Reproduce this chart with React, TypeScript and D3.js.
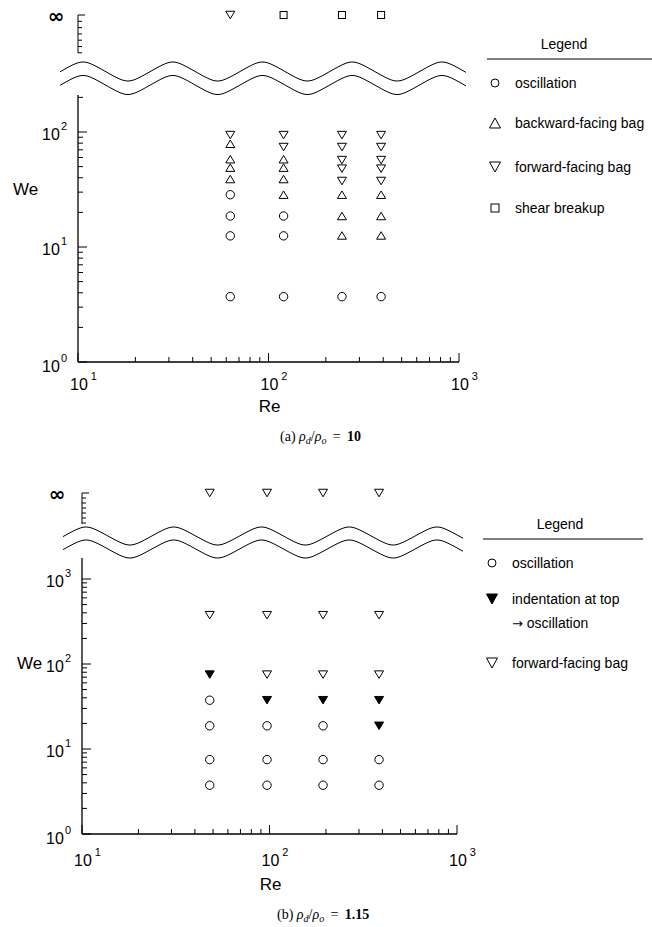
import React from "react";
import * as d3 from "d3";

const INF = Infinity;

// ---------- Panel (a): rho_d / rho_o = 10 ----------
const RE_A = [63, 120, 243, 390];
const A_OSCILLATION = [[28.5, 18.6, 12.5, 3.7], [18.6, 12.5, 3.7], [3.7], [3.7]];
const A_BACKWARD = [[79, 58, 49, 39], [58, 49, 39, 28.5], [28.5, 18.6, 12.6], [28.5, 18.6, 12.6]];
const A_FORWARD = [[INF, 94], [94, 74], [94, 74, 57, 48, 37.5], [94, 74, 57, 48, 37.5]];
const A_SHEAR = [[], [INF], [INF], [INF]];
const A_LEGEND = [["oscillation"], ["backward-facing bag"], ["forward-facing bag"], ["shear breakup"]];

// ---------- Panel (b): rho_d / rho_o = 1.15 ----------
const RE_B = [48, 97, 193, 384];
const B_OSCILLATION = [[37.5, 18.75, 7.5, 3.75], [18.75, 7.5, 3.75], [18.75, 7.5, 3.75], [7.5, 3.75]];
const B_INDENT = [[75], [37.5], [37.5], [37.5, 18.75]];
const B_FORWARD = [[INF, 375], [INF, 375, 75], [INF, 375, 75], [INF, 375, 75]];
const B_LEGEND = [["oscillation"], ["indentation at top", "\u2192 oscillation"], ["forward-facing bag"]];

const X_DOMAIN = [10, 1000];

const SANS = "'Liberation Sans', Arial, Helvetica, sans-serif";
const SERIF = "'Liberation Serif', 'Times New Roman', serif";

type Shape = "circle" | "up" | "down" | "square" | "downFilled";

function markerPath(shape: Shape, w: number, h: number) {
  if (shape === "up") return `M0,${-h / 2}L${w / 2},${h / 2}L${-w / 2},${h / 2}Z`;
  if (shape === "down" || shape === "downFilled") return `M${-w / 2},${-h / 2}L${w / 2},${-h / 2}L0,${h / 2}Z`;
  return "";
}

function Marker({ shape, x, y, big }: { shape: Shape; x: number; y: number; big?: boolean }) {
  const w = big ? 11 : 9;
  const h = big ? 10 : 7.5;
  if (shape === "circle") {
    return <circle cx={x} cy={y} r={big ? 4 : 4.2} fill="white" stroke="black" strokeWidth={1} />;
  }
  if (shape === "square") {
    const s = big ? 8 : 7;
    return <rect x={x - s / 2} y={y - s / 2} width={s} height={s} fill="white" stroke="black" strokeWidth={1} />;
  }
  return (
    <path
      d={markerPath(shape, w, h)}
      transform={`translate(${x},${y})`}
      fill={shape === "downFilled" ? "black" : "white"}
      stroke="black"
      strokeWidth={1}
      strokeLinejoin="miter"
    />
  );
}

interface PanelCfg {
  re: number[];
  series: { shape: Shape; cols: number[][] }[];
  legend: string[][];
  legendShapes: Shape[];
  x0: number;
  x1: number;
  yBase: number;
  decade: number;
  yTopVal: number;
  infY: number;
  infX: number;
  segTop: number;
  segBottom: number;
  segStep: number;
  segCount: number;
  wave: { x0: number; x1: number; mid: number; amp: number; gap: number; peak: number; period: number };
  xLabelBase: number;
  reLabelY: number;
  weX: number;
  weY: number;
  capX: number;
  capY: number;
  capLabel: string;
  capValue: string;
  legTitleY: number;
  legLine: [number, number, number];
  legTitleX: number;
  legMarkerX: number;
  legTextX: number;
  legBaselines: number[];
}

// softly rounded triangle wave in [-1, 1], peak (1) at phase 0
const K = 0.82;
const waveShape = (theta: number) => Math.asin(K * Math.cos(theta)) / Math.asin(K);

function Panel({ c }: { c: PanelCfg }) {
  const x = d3.scaleLog().domain(X_DOMAIN).range([c.x0, c.x1]);
  const y = d3.scaleLog().domain([1, 10]).range([c.yBase, c.yBase - c.decade]);
  const yTop = y(c.yTopVal);
  const yPos = (v: number) => (v === INF ? c.infY : y(v));
  const isMajor = (v: number) => Math.abs(Math.log10(v) - Math.round(Math.log10(v))) < 1e-9;
  const xTicks = x.ticks();
  const yTicks = d3.scaleLog().domain([1, c.yTopVal]).ticks();

  const w = c.wave;
  const wavePts = (off: number) =>
    d3.range(w.x0, w.x1 + 0.5, 1).map((px) => [px, w.mid + off - w.amp * waveShape((2 * Math.PI * (px - w.peak)) / w.period)] as [number, number]);
  const line = d3.line();

  const segTicks = d3.range(c.segCount).map((i) => c.segTop + i * c.segStep);

  return (
    <g>
      {/* wavy break lines */}
      <path d={line(wavePts(0)) || ""} fill="none" stroke="black" strokeWidth={1} />
      <path d={line(wavePts(w.gap)) || ""} fill="none" stroke="black" strokeWidth={1} />

      {/* infinity segment */}
      <line x1={c.x0} x2={c.x0} y1={c.segTop} y2={c.segBottom} stroke="black" strokeWidth={1} />
      {segTicks.map((t, i) => (
        <line key={i} x1={c.x0} x2={c.x0 + (i === 0 ? 7 : 4)} y1={t} y2={t} stroke="black" strokeWidth={1} />
      ))}
      <text x={c.infX} y={c.infY + 1} fontFamily="'DejaVu Sans', sans-serif" fontSize={20} fontWeight="bold" textAnchor="middle" dominantBaseline="central">
        {"\u221e"}
      </text>

      {/* y axis */}
      <line x1={c.x0} x2={c.x0} y1={c.yBase} y2={yTop} stroke="black" strokeWidth={1.3} />
      {yTicks.map((t, i) => (
        <line key={i} x1={c.x0} x2={c.x0 + (isMajor(t) ? 9 : 5)} y1={y(t)} y2={y(t)} stroke="black" strokeWidth={1} />
      ))}
      {yTicks.filter(isMajor).map((t, i) => (
        <text key={i} x={c.x0 - 11} y={y(t) + (t === 1 ? 10 : 8)} fontFamily={SANS} fontSize={16} textAnchor="end">
          10
          <tspan fontSize={11} dx={1} dy={-10}>
            {Math.round(Math.log10(t))}
          </tspan>
        </text>
      ))}
      <text x={c.weX} y={c.weY} fontFamily={SANS} fontSize={17}>
        We
      </text>

      {/* x axis */}
      <line x1={c.x0} x2={c.x1} y1={c.yBase} y2={c.yBase} stroke="black" strokeWidth={1.3} />
      {xTicks.map((t, i) => (
        <line key={i} x1={x(t)} x2={x(t)} y1={c.yBase} y2={c.yBase - (isMajor(t) ? 9 : 5)} stroke="black" strokeWidth={1} />
      ))}
      {xTicks.filter(isMajor).map((t, i) => (
        <text key={i} x={x(t) - 8} y={c.xLabelBase} fontFamily={SANS} fontSize={16}>
          10
          <tspan fontSize={11} dx={3} dy={-10}>
            {Math.round(Math.log10(t))}
          </tspan>
        </text>
      ))}
      <text x={x(100) + 1} y={c.reLabelY} fontFamily={SANS} fontSize={17} textAnchor="middle">
        Re
      </text>

      {/* data */}
      {c.series.map((s, si) =>
        s.cols.map((vals, ci) =>
          vals.map((v, vi) => <Marker key={`${si}-${ci}-${vi}`} shape={s.shape} x={x(c.re[ci])} y={yPos(v)} />)
        )
      )}

      {/* legend */}
      <text x={c.legTitleX} y={c.legTitleY} fontFamily={SANS} fontSize={14} textAnchor="middle">
        Legend
      </text>
      <line x1={c.legLine[0]} x2={c.legLine[1]} y1={c.legLine[2]} y2={c.legLine[2]} stroke="black" strokeWidth={1} />
      {c.legend.map((lines, i) => (
        <g key={i}>
          <Marker shape={c.legendShapes[i]} x={c.legMarkerX} y={c.legBaselines[i] - 5} big />
          {lines.map((ln, j) => (
            <text key={j} x={c.legTextX} y={c.legBaselines[i] + j * 24} fontFamily={SANS} fontSize={14}>
              {ln.startsWith("\u2192") ? (
                <>
                  <tspan fontFamily="'DejaVu Sans', sans-serif" fontSize={13}>{"\u2192"}</tspan>
                  {ln.slice(1)}
                </>
              ) : (
                ln
              )}
            </text>
          ))}
        </g>
      ))}

      {/* caption */}
      <text x={c.capX} y={c.capY} fontFamily={SERIF} fontSize={14}>
        {c.capLabel + " "}
        <tspan fontStyle="italic">{"\u03c1"}</tspan>
        <tspan fontStyle="italic" fontSize={10} dy={3}>d</tspan>
        <tspan dy={-3}>/</tspan>
        <tspan fontStyle="italic">{"\u03c1"}</tspan>
        <tspan fontStyle="italic" fontSize={10} dy={3}>o</tspan>
        <tspan dy={-3}>{" \u2009=\u2009 "}</tspan>
        <tspan fontWeight="bold">{c.capValue}</tspan>
      </text>
    </g>
  );
}

const PANEL_A: PanelCfg = {
  re: RE_A,
  series: [
    { shape: "circle", cols: A_OSCILLATION },
    { shape: "up", cols: A_BACKWARD },
    { shape: "down", cols: A_FORWARD },
    { shape: "square", cols: A_SHEAR },
  ],
  legend: A_LEGEND,
  legendShapes: ["circle", "up", "down", "square"],
  x0: 78,
  x1: 459,
  yBase: 362,
  decade: 115,
  yTopVal: 210,
  infY: 15,
  infX: 56,
  segTop: 15,
  segBottom: 53,
  segStep: 6.3,
  segCount: 7,
  wave: { x0: 60, x1: 466, mid: 71.5, amp: 9.5, gap: 13.5, peak: 83, period: 89.75 },
  xLabelBase: 390,
  reLabelY: 412,
  weX: 13,
  weY: 195,
  capX: 280,
  capY: 441,
  capLabel: "(a)",
  capValue: "10",
  legTitleY: 49,
  legTitleX: 564,
  legLine: [487, 652, 59],
  legMarkerX: 495,
  legTextX: 515,
  legBaselines: [88, 128, 172, 213],
};

const PANEL_B: PanelCfg = {
  re: RE_B,
  series: [
    { shape: "circle", cols: B_OSCILLATION },
    { shape: "downFilled", cols: B_INDENT },
    { shape: "down", cols: B_FORWARD },
  ],
  legend: B_LEGEND,
  legendShapes: ["circle", "downFilled", "down"],
  x0: 82,
  x1: 457,
  yBase: 834,
  decade: 85,
  yTopVal: 1770,
  infY: 493,
  infX: 57,
  segTop: 493,
  segBottom: 524,
  segStep: 5,
  segCount: 7,
  wave: { x0: 63, x1: 463, mid: 536, amp: 9, gap: 13, peak: 86, period: 87.75 },
  xLabelBase: 866,
  reLabelY: 890,
  weX: 17,
  weY: 669,
  capX: 277,
  capY: 919,
  capLabel: "(b)",
  capValue: "1.15",
  legTitleY: 529,
  legTitleX: 560,
  legLine: [483, 643, 539],
  legMarkerX: 492,
  legTextX: 512,
  legBaselines: [568, 604, 668],
};

export default function App() {
  return (
    <svg
      width={652}
      height={927}
      viewBox="0 0 652 927"
      style={{ position: "absolute", left: 0, top: 0, background: "white" }}
    >
      <rect width={652} height={927} fill="white" />
      <Panel c={PANEL_A} />
      <Panel c={PANEL_B} />
    </svg>
  );
}
